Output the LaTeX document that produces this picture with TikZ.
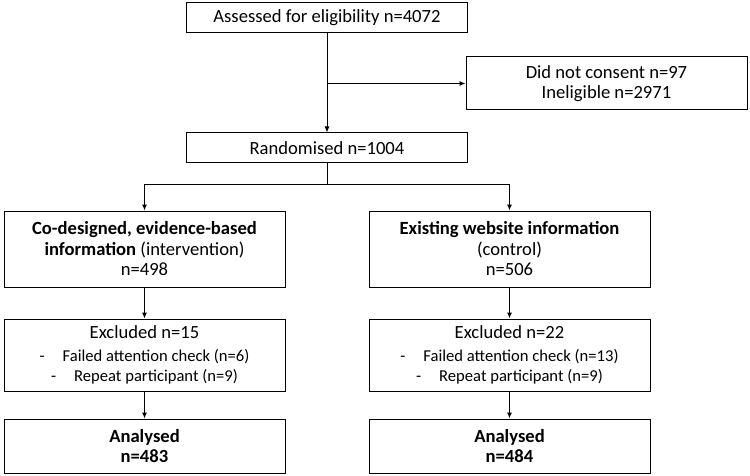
\documentclass[tikz,border=0pt]{standalone}
\usepackage{fontspec}
\setmainfont{Carlito}
\usetikzlibrary{arrows.meta,positioning}
\tikzset{
  box/.style={draw, line width=1pt, rectangle, minimum width=281pt, align=center, inner sep=0pt,
    font=\fontsize{18.6}{20.5}\selectfont},
  arr/.style={line width=1pt, -{Latex[length=6pt,width=5pt]}},
  ln/.style={line width=1pt},
}
\newcommand{\subline}[1]{{\fontsize{16.6}{20}\selectfont -\hspace{18pt}#1}}
\begin{document}
\begin{tikzpicture}[x=1pt,y=-1pt]
\useasboundingbox (0,0) rectangle (750,476);
\node[box, minimum height=30pt] (assess) at (327,18) {Assessed for eligibility n=4072};
\node[box, minimum height=53pt] (excl) at (606.5,83.5) {Did not consent n=97\\Ineligible n=2971};
\node[box, minimum height=30pt] (rand) at (327,148) {Randomised n=1004};
\node[box, minimum height=76pt] (intL) at (144.5,249) {\textbf{Co-designed, evidence-based}\\\textbf{information} (intervention)\\n=498};
\node[box, minimum height=76pt] (intR) at (509.5,249) {\textbf{Existing website information}\\(control)\\n=506};
\node[box, minimum height=72pt] (exL) at (144.5,355) {Excluded n=15\\[2.5pt]\subline{Failed attention check (n=6)}\\[-0.5pt]\subline{Repeat participant (n=9)}};
\node[box, minimum height=72pt] (exR) at (509.5,355) {Excluded n=22\\[2.5pt]\subline{Failed attention check (n=13)}\\[-0.5pt]\subline{Repeat participant (n=9)}};
\node[box, minimum height=54pt] (anL) at (144.5,446) {\textbf{Analysed}\\\textbf{n=483}};
\node[box, minimum height=54pt] (anR) at (509.5,446) {\textbf{Analysed}\\\textbf{n=484}};
\coordinate (split) at (327,185);
\draw[arr] (assess.south) -- (rand.north);
\draw[arr] (assess.south |- excl.west) -- (excl.west);
\draw[ln] (rand.south) -- (split);
\draw[arr] (split) -| (intL.north);
\draw[arr] (split) -| (intR.north);
\draw[arr] (intL.south) -- (exL.north);
\draw[arr] (intR.south) -- (exR.north);
\draw[arr] (exL.south) -- (anL.north);
\draw[arr] (exR.south) -- (anR.north);
\end{tikzpicture}
\end{document}
